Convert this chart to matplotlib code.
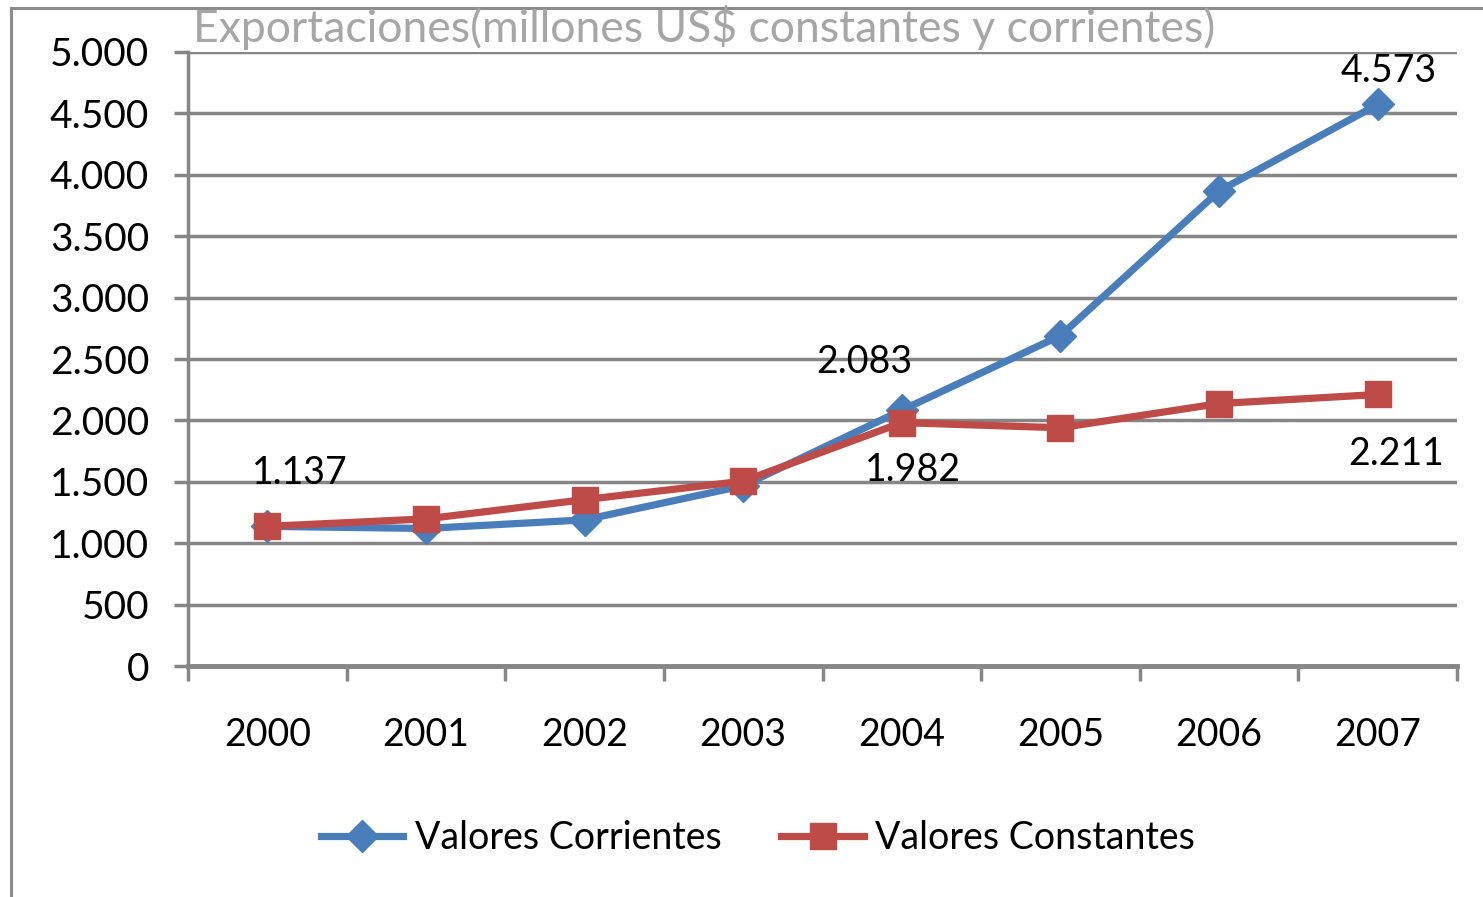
import matplotlib
matplotlib.use("Agg")
import matplotlib.pyplot as plt
from matplotlib.patches import Rectangle
from matplotlib.ticker import FuncFormatter, MultipleLocator, FixedLocator

years = ["2000", "2001", "2002", "2003", "2004", "2005", "2006", "2007"]
corrientes = [1137, 1120, 1190, 1468, 2083, 2690, 3868, 4573]
constantes = [1137, 1198, 1355, 1505, 1982, 1940, 2137, 2211]
title = "Exportaciones(millones US$ constantes y corrientes)"
series_names = ["Valores Corrientes", "Valores Constantes"]

FONT = "Lato"
plt.rcParams['font.family'] = [FONT, 'DejaVu Sans']

W, H = 1483, 897
fig = plt.figure(figsize=(W / 100, H / 100), dpi=100)

# chart border
fig.add_artist(Rectangle((11 / W, -0.1), 1.2, (H - 8) / H + 0.1, transform=fig.transFigure,
                         fill=False, edgecolor="#8c8c8c", linewidth=2.2))

ax = fig.add_axes([188 / W, (H - 666) / H, (1457 - 188) / W, (666 - 52) / H])
x = list(range(len(years)))
blue = "#4a7ebb"
red = "#be4b48"
ax.plot(x, corrientes, color=blue, lw=5.2, marker="D", ms=16, mfc=blue, mec=blue,
        label=series_names[0], zorder=3)
ax.plot(x, constantes, color=red, lw=5.2, marker="s", ms=19, mfc=red, mec=red,
        label=series_names[1], zorder=4)

ax.set_xlim(-0.5, len(years) - 0.5)
ax.set_ylim(0, 5000)
ax.yaxis.set_major_locator(MultipleLocator(500))
ax.yaxis.set_major_formatter(FuncFormatter(lambda v, p: f"{int(v):,}".replace(",", ".")))
ax.grid(axis="y", color="#868686", lw=2.5)
ax.set_axisbelow(True)
for s in ["top", "right"]:
    ax.spines[s].set_visible(False)
ax.spines["left"].set_color("#868686")
ax.spines["left"].set_linewidth(2.5)
ax.spines["bottom"].set_color("#868686")
ax.spines["bottom"].set_linewidth(3.5)
ax.tick_params(axis="y", length=10, width=2.5, color="#868686", labelsize=28, pad=18)
ax.set_xticks(x)
ax.set_xticklabels(years)
ax.xaxis.set_minor_locator(FixedLocator([i - 0.5 for i in range(len(years) + 1)]))
ax.tick_params(axis="x", which="major", length=0, labelsize=27, pad=37)
ax.tick_params(axis="x", which="minor", length=11, width=2.5, color="#868686")

def lab(xi, val, dx, dy):
    ax.annotate(f"{val:,}".replace(",", "."), (xi, val), xytext=(dx, dy),
                textcoords="offset pixels", ha="center", va="center", fontsize=27,
                color="black", zorder=6)

lab(0, corrientes[0], 33, 53)
lab(4, corrientes[4], -38, 48)
lab(4, constantes[4], 11, -47)
lab(7, corrientes[7], 11, 33)
lab(7, constantes[7], 18, -60)

fig.text(193 / W, (H - 28) / H, title, fontsize=32, color="#a6a6a6", ha="left", va="center")

fig.legend(loc="center", bbox_to_anchor=(758 / W, (H - 838) / H), ncol=2, frameon=False,
           fontsize=27, handlelength=2.2, columnspacing=1.6, handletextpad=0.3)

fig.savefig("out.png", dpi=100)
